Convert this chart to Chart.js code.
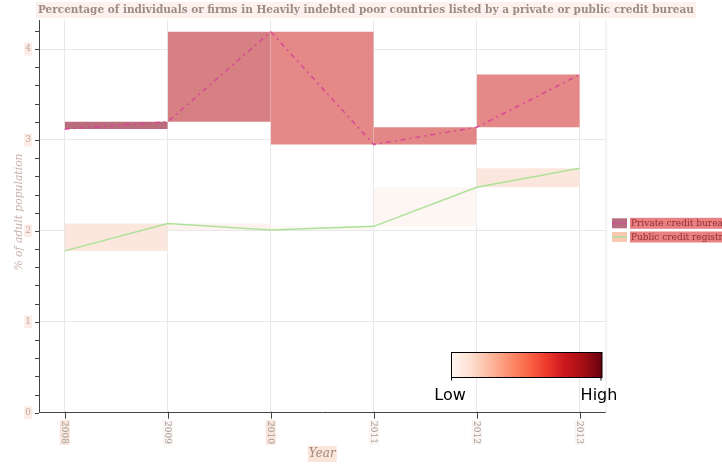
<!DOCTYPE html>
<html><head><meta charset="utf-8">
<script src="https://cdn.jsdelivr.net/npm/chart.js@4"></script>
<style>html,body{margin:0;padding:0;background:#fff;overflow:hidden}#wrap{width:722px;height:464px;position:relative}</style>
</head><body><div id="wrap"><canvas id="c" width="722" height="464"></canvas></div>
<script>
// ---- data ----
const titleText = "Percentage of individuals or firms in Heavily indebted poor countries listed by a private or public credit bureau";
const years = [2008, 2009, 2010, 2011, 2012, 2013];
const privateBureau = [3.12, 3.20, 4.19, 2.95, 3.14, 3.72];
const publicRegistry = [1.78, 2.08, 2.01, 2.05, 2.48, 2.69];
const yTickLabels = [0, 1, 2, 3, 4];
const seriesNames = ["Private credit bureau", "Public credit registry"];
const colorbarLabels = ["Low", "High"];
const xTitle = "Year";
const yTitle = "% of adult population";

// ---- styles ----
const privateBoxColors = ["rgb(186,108,124)", "rgb(214,128,131)", "rgb(228,136,136)", "rgb(227,134,134)", "rgb(228,136,136)"];
const publicBoxColors = ["rgb(252,231,223)", "rgb(253,242,238)", "rgb(254,246,243)", "rgb(254,246,243)", "rgb(252,231,222)"];
const privateLineColor = "rgba(214,66,150,0.85)";
const publicLineColor = "rgb(172,226,152)";
const privateDash = [5, 4, 2, 4];
const xLabelBg = ["rgba(250,222,210,0.8)", "rgba(250,235,228,0.5)", "rgba(250,222,210,0.8)", "rgba(250,235,228,0.5)", "rgba(250,235,228,0.5)", "rgba(250,235,228,0.5)"];
const redsStops = ["#fff5f0", "#fee0d2", "#fcbba1", "#fc9272", "#fb6a4a", "#ef3b2c", "#cb181d", "#a50f15", "#67000d"];

function isLabelTick(v) { return yTickLabels.some(t => Math.abs(t - v) < 1e-6); }

function boxDatasets(vals, colors, order) {
  const out = [];
  for (let i = 0; i < vals.length - 1; i++) {
    const lo = Math.min(vals[i], vals[i + 1]);
    const hi = Math.max(vals[i], vals[i + 1]);
    out.push({
      type: 'line',
      data: [{x: years[i], y: hi}, {x: years[i + 1], y: hi}],
      fill: {value: lo},
      backgroundColor: colors[i],
      borderColor: 'rgba(0,0,0,0)',
      borderWidth: 0,
      pointRadius: 0,
      order: order
    });
  }
  return out;
}

const datasets = [
  {
    type: 'line', label: seriesNames[0],
    data: years.map((x, i) => ({x: x, y: privateBureau[i]})),
    borderColor: privateLineColor, borderWidth: 1.6, borderDash: privateDash,
    pointRadius: 0, fill: false, order: 0
  },
  {
    type: 'line', label: seriesNames[1],
    data: years.map((x, i) => ({x: x, y: publicRegistry[i]})),
    borderColor: publicLineColor, borderWidth: 1.5,
    pointRadius: 0, fill: false, order: 0
  },
  ...boxDatasets(privateBureau, privateBoxColors, 1),
  ...boxDatasets(publicRegistry, publicBoxColors, 2)
];

function fitFont(ctx, text, style, family, target) {
  ctx.font = style + ' 10px ' + family;
  const w = ctx.measureText(text).width;
  return 10 * target / w;
}

const deco = {
  id: 'deco',
  beforeDraw(chart) {
    const c = chart.ctx;
    c.save(); c.fillStyle = '#fff'; c.fillRect(0, 0, chart.width, chart.height); c.restore();
  },
  afterDraw(chart) {
    const ctx = chart.ctx, xs = chart.scales.x, ys = chart.scales.y, ca = chart.chartArea;
    ctx.save();
    // right border of plot
    ctx.strokeStyle = '#e8e8e8'; ctx.lineWidth = 1;
    ctx.beginPath(); ctx.moveTo(ca.right + 0.5, ca.top); ctx.lineTo(ca.right + 0.5, ca.bottom); ctx.stroke();

    // axis tick marks (from the scales' own ticks)
    ctx.strokeStyle = '#444'; ctx.lineWidth = 1;
    ctx.beginPath();
    ys.ticks.forEach(t => {
      const py = Math.round(ys.getPixelForValue(t.value)) + 0.5;
      ctx.moveTo(ca.left - 4, py); ctx.lineTo(ca.left, py);
    });
    xs.ticks.forEach(t => {
      const px = Math.round(xs.getPixelForValue(t.value)) + 0.5;
      ctx.moveTo(px, ca.bottom - 1); ctx.lineTo(px, ca.bottom + 6);
    });
    ctx.stroke();

    // title
    const fam = '"DejaVu Serif", serif';
    let fs = fitFont(ctx, titleText, 'bold', fam, 656);
    ctx.font = 'bold ' + fs.toFixed(2) + 'px ' + fam;
    ctx.fillStyle = 'rgba(250,232,225,0.6)';
    ctx.fillRect(36, 2, 660, 16);
    ctx.fillStyle = 'rgb(158,138,133)';
    ctx.textAlign = 'left'; ctx.textBaseline = 'middle';
    ctx.fillText(titleText, 38, 10.5);

    // x tick labels (rotated clockwise)
    ctx.font = '9px ' + fam;
    years.forEach((yr, i) => {
      const px = xs.getPixelForValue(yr);
      const txt = String(yr);
      const w = ctx.measureText(txt).width;
      ctx.save();
      ctx.translate(px, 421);
      ctx.rotate(Math.PI / 2);
      ctx.fillStyle = xLabelBg[i];
      ctx.fillRect(-1, -5, w + 2, 10);
      ctx.fillStyle = 'rgb(160,160,160)';
      ctx.textAlign = 'left'; ctx.textBaseline = 'middle';
      ctx.fillText(txt, 0, 0.5);
      ctx.restore();
    });

    // x axis title
    ctx.font = 'italic 12px ' + fam;
    const yw = ctx.measureText(xTitle).width;
    const xc = (ca.left + ca.right) / 2;
    ctx.fillStyle = 'rgba(250,222,210,0.8)';
    ctx.fillRect(xc - yw / 2 - 1, 446, yw + 2, 16);
    ctx.fillStyle = 'rgb(165,135,130)';
    ctx.textAlign = 'center'; ctx.textBaseline = 'middle';
    ctx.fillText(xTitle, xc, 454);

    // y axis title
    fs = fitFont(ctx, yTitle, 'italic', fam, 117);
    ctx.font = 'italic ' + fs.toFixed(2) + 'px ' + fam;
    ctx.save();
    ctx.translate(19, 212);
    ctx.rotate(-Math.PI / 2);
    ctx.fillStyle = 'rgb(200,176,170)';
    ctx.textAlign = 'center'; ctx.textBaseline = 'middle';
    ctx.fillText(yTitle, 0, 0);
    ctx.restore();

    // legend
    const legendY = [223.3, 237];
    ctx.font = '9px ' + fam;
    seriesNames.forEach((name, i) => {
      const cy = legendY[i];
      ctx.fillStyle = i === 0 ? 'rgb(184,108,128)' : 'rgb(251,200,178)';
      ctx.fillRect(612, cy - 5, 15, 10);
      ctx.strokeStyle = i === 0 ? privateLineColor : publicLineColor;
      ctx.lineWidth = 1.5;
      ctx.setLineDash(i === 0 ? [3, 2, 1.5, 2] : []);
      ctx.beginPath(); ctx.moveTo(612, cy); ctx.lineTo(627, cy); ctx.stroke();
      ctx.setLineDash([]);
      ctx.fillStyle = 'rgb(232,130,130)';
      ctx.fillRect(630, cy - 5.5, 92, 11);
      ctx.fillStyle = 'rgb(150,45,50)';
      ctx.textAlign = 'left'; ctx.textBaseline = 'middle';
      ctx.fillText(name, 631, cy + 0.5);
    });

    // colorbar
    const cbx0 = 451.5, cbx1 = 602, cby0 = 352.5, cby1 = 377.5;
    const g = ctx.createLinearGradient(cbx0, 0, cbx1, 0);
    redsStops.forEach((c, i) => g.addColorStop(i / (redsStops.length - 1), c));
    ctx.fillStyle = g;
    ctx.fillRect(cbx0, cby0, cbx1 - cbx0, cby1 - cby0);
    ctx.strokeStyle = '#000'; ctx.lineWidth = 1;
    ctx.strokeRect(cbx0, cby0, cbx1 - cbx0, cby1 - cby0);
    ctx.beginPath();
    ctx.moveTo(cbx0, cby1); ctx.lineTo(cbx0, cby1 + 3);
    ctx.moveTo(cbx1 - 1, cby1); ctx.lineTo(cbx1 - 1, cby1 + 3);
    ctx.stroke();
    ctx.font = '16px "DejaVu Sans", sans-serif';
    ctx.fillStyle = '#000';
    ctx.textAlign = 'center'; ctx.textBaseline = 'alphabetic';
    ctx.fillText(colorbarLabels[0], 450, 400);
    ctx.fillText(colorbarLabels[1], 599, 400);
    ctx.restore();
  }
};

new Chart(document.getElementById('c'), {
  type: 'line',
  data: {datasets: datasets},
  plugins: [deco],
  options: {
    responsive: false, animation: false, devicePixelRatio: 1,
    layout: {padding: {top: 20, right: 116.5, left: 0, bottom: 0}},
    plugins: {legend: {display: false}, title: {display: false}, tooltip: {enabled: false}},
    elements: {line: {tension: 0}},
    scales: {
      x: {
        type: 'linear', min: 2007.75, max: 2013.25,
        afterBuildTicks: s => { s.ticks = years.map(v => ({value: v})); },
        afterFit: s => { s.height = 51.3; },
        ticks: {display: false},
        grid: {color: '#e8e8e8', drawTicks: false, lineWidth: 1},
        border: {color: '#444', width: 1}
      },
      y: {
        type: 'linear', min: 0, max: 4.32,
        afterBuildTicks: s => {
          const t = [];
          for (let k = 0; k <= 21; k++) t.push({value: k / 5});
          s.ticks = t;
        },
        afterFit: s => { s.width = 39; },
        ticks: {
          autoSkip: false, padding: 8,
          font: {family: 'DejaVu Serif', size: 9},
          color: 'rgb(198,166,156)',
          callback: v => isLabelTick(v) ? String(yTickLabels.find(t => Math.abs(t - v) < 1e-6)) : '',
          showLabelBackdrop: true,
          backdropColor: ctx => isLabelTick(ctx.tick.value) ? 'rgba(250,230,220,0.7)' : 'rgba(0,0,0,0)',
          backdropPadding: 1
        },
        grid: {
          color: ctx => (ctx.tick && isLabelTick(ctx.tick.value)) ? '#e8e8e8' : 'rgba(0,0,0,0)',
          drawTicks: false
        },
        border: {color: '#444', width: 1}
      }
    }
  }
});
</script>
</body></html>
